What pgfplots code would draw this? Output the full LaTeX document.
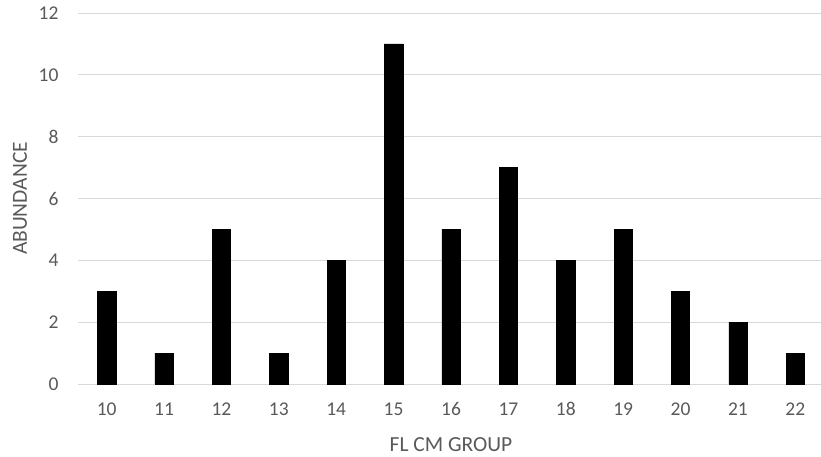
\documentclass[border=0pt]{standalone}
\usepackage{pgfplots}
\pgfplotsset{compat=1.18}
\usepackage{fontspec}
\setmainfont{Carlito}
\definecolor{txtc}{HTML}{595959}
\definecolor{gridc}{HTML}{D9D9D9}
\begin{document}
\begin{tikzpicture}[x=1pt,y=1pt]
\useasboundingbox (-78,-73) rectangle (743,384);
\begin{axis}[
  at={(0,0)}, anchor=origin,
  scale only axis, width=746pt, height=371pt,
  xmin=9.5, xmax=22.5, ymin=0, ymax=12,
  xtick={10,...,22}, ytick={0,2,...,12},
  axis line style={draw=none},
  xmajorgrids=false, ymajorgrids=true,
  grid style={draw=gridc, line width=0.9pt},
  major tick length=0pt,
  tick label style={font=\fontsize{19.5}{20}\selectfont, text=txtc},
  /pgf/number format/assume math mode=true,
  xticklabel style={yshift=-15pt},
  yticklabel style={xshift=-16pt},
  xlabel={FL CM GROUP},
  ylabel={ABUNDANCE},
  every axis x label/.style={at={(axis description cs:0.5,0)}, anchor=center, yshift=-61pt, font=\fontsize{21.5}{22}\selectfont, text=txtc},
  every axis y label/.style={at={(axis description cs:0,0.5)}, rotate=90, anchor=center, yshift=58pt, font=\fontsize{21.5}{22}\selectfont, text=txtc},
  clip=false,
]
\draw[gridc, line width=0.9pt] (axis cs:9.5,0) -- (axis cs:22.5,0);
\addplot[ybar, bar width=18.3pt, fill=black, draw=black] coordinates {
(10,3) (11,1) (12,5) (13,1) (14,4) (15,11) (16,5) (17,7) (18,4) (19,5) (20,3) (21,2) (22,1)
};
\end{axis}
\end{tikzpicture}
\end{document}
